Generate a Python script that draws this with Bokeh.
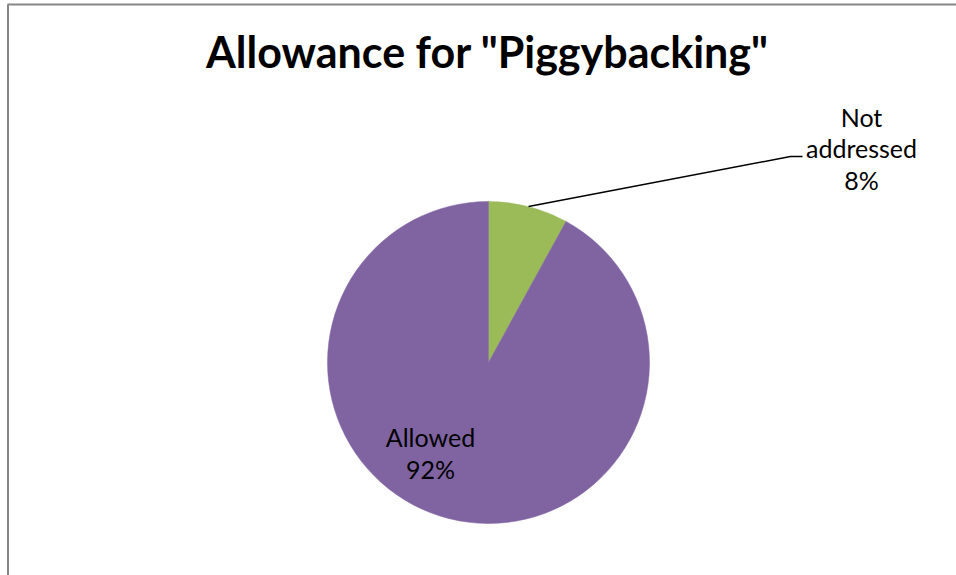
import numpy as np
from bokeh.plotting import figure
from bokeh.models import Range1d, ColumnDataSource
from bokeh.core.properties import value
from bokeh.embed import file_html
from bokeh.resources import INLINE

# ---- data ----
categories = ["Not addressed", "Allowed"]
shares = [8, 92]
colors = ["#9BBB59", "#8064A2"]
title_text = 'Allowance for "Piggybacking"'

W, H = 956, 575
p = figure(width=W, height=H, x_range=Range1d(0, W), y_range=Range1d(0, H),
           output_backend="svg", toolbar_location=None, min_border=0)
p.axis.visible = False
p.grid.visible = False
p.outline_line_color = None
p.background_fill_color = "white"
p.border_fill_color = "white"

# pie geometry
cx, cy, r = 488, 213, 161
fr = np.array(shares, dtype=float) / sum(shares)
# clockwise from 12 o'clock
ends_cw = np.pi / 2 - 2 * np.pi * np.cumsum(fr)
starts_cw = np.concatenate([[np.pi / 2], ends_cw[:-1]])
src = ColumnDataSource(dict(
    x=[cx] * len(shares), y=[cy] * len(shares),
    start=list(ends_cw), end=list(starts_cw),
    color=colors, cat=categories,
))
p.wedge(x="x", y="y", radius=r, start_angle="start", end_angle="end",
        direction="anticlock", fill_color="color", line_color="color",
        line_width=0.5, source=src)

# leader line for "Not addressed"
mid0 = (starts_cw[0] + ends_cw[0]) / 2
lx0, ly0 = cx + r * np.cos(mid0), cy + r * np.sin(mid0)
p.line(x=[lx0, 790, 802], y=[ly0, 419, 419], line_color="black", line_width=1.5)

font = value("Lato")
dy = 9
# Not addressed label
p.text(x=[861, 861, 861], y=[450 + dy, 418.5 + dy, 387 + dy],
       text=["Not", "addressed", f"{shares[0]}%"],
       text_font=font, text_font_size="25px", text_align="center",
       text_baseline="alphabetic", text_color="black")
# Allowed label
p.text(x=[430, 430], y=[130 + dy, 98 + dy],
       text=[categories[1], f"{shares[1]}%"],
       text_font=font, text_font_size="25px", text_align="center",
       text_baseline="alphabetic", text_color="black")

# title
p.text(x=[487], y=[575 - 62 + 11], text=[title_text], text_font=font,
       text_font_size="43px", text_font_style="bold", text_align="center",
       text_baseline="alphabetic", text_color="black")

# chart frame (left and top edges visible)
p.segment(x0=[7.5, 7], y0=[0, 571], x1=[7.5, W], y1=[571, 571],
          line_color="#868686", line_width=2)

open("out.html", "w").write(file_html(p, INLINE))
